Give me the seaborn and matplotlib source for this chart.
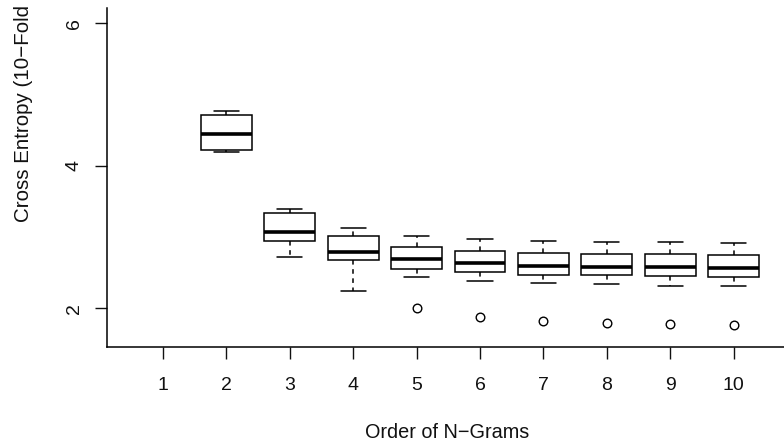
import numpy as np
import pandas as pd
import matplotlib
matplotlib.use("Agg")
import matplotlib.pyplot as plt
import seaborn as sns

# ---- data (five-number summaries per n-gram order) ----
orders = ["1", "2", "3", "4", "5", "6", "7", "8", "9", "10"]
lower_whisker = [None, 4.196, 2.724, 2.236, 2.439, 2.383, 2.355, 2.337, 2.317, 2.317]
q1            = [None, 4.216, 2.944, 2.677, 2.555, 2.506, 2.471, 2.463, 2.449, 2.443]
median        = [None, 4.440, 3.066, 2.785, 2.687, 2.631, 2.597, 2.586, 2.579, 2.569]
q3            = [None, 4.707, 3.341, 3.018, 2.864, 2.801, 2.771, 2.759, 2.762, 2.748]
upper_whisker = [None, 4.767, 3.389, 3.126, 3.018, 2.968, 2.944, 2.927, 2.930, 2.916]
outlier       = [None, None, None, None, 2.004, 1.882, 1.822, 1.790, 1.776, 1.762]
y_ticks = [2, 4, 6]

# Build a long table whose box statistics reproduce the summaries above
rows = []
for i, o in enumerate(orders):
    if median[i] is None:
        continue
    first = outlier[i] if outlier[i] is not None else lower_whisker[i]
    vals = [first, lower_whisker[i], q1[i], median[i], median[i], median[i],
            q3[i], upper_whisker[i], upper_whisker[i]]
    rows += [(o, v) for v in vals]
df = pd.DataFrame(rows, columns=["order", "ce"])

sns.set_style("ticks")
plt.rcParams["font.family"] = ["Liberation Sans", "DejaVu Sans"]

W, H = 784, 441
fig = plt.figure(figsize=(W / 100, H / 100), dpi=100)
ax_left, ax_bottom_px, ax_top_px = 107, 347, 8
ax = fig.add_axes([ax_left / W, (H - ax_bottom_px) / H,
                   (W - ax_left) / W, (ax_bottom_px - ax_top_px) / H])

sns.boxplot(data=df, x="order", y="ce", order=orders, ax=ax,
            color="white", linecolor="black", linewidth=1.1, width=0.8,
            whiskerprops=dict(linestyle=(0, (3, 3)), linewidth=1.1),
            capprops=dict(linestyle="-", linewidth=1.1),
            medianprops=dict(linewidth=2.6, color="black"),
            flierprops=dict(marker="o", markerfacecolor="none",
                            markeredgecolor="black", markersize=6.2,
                            markeredgewidth=1.0))

# scales matched to the reference pixel layout
px_per_cat = 63.4
x0_px = 163
ax.set_xlim((ax_left - x0_px) / px_per_cat, (W - x0_px) / px_per_cat)
px_per_unit = 71.3
y2_px = 308.3
ax.set_ylim(2 - (ax_bottom_px - y2_px) / px_per_unit,
            2 + (y2_px - ax_top_px) / px_per_unit)

ax.set_yticks(y_ticks)
ax.set_yticklabels([str(t) for t in y_ticks], rotation=90, va="center")
ax.tick_params(axis="both", length=8.6, width=1.0, direction="out",
               labelsize=14, colors="#111111")
ax.tick_params(axis="y", pad=9)
ax.tick_params(axis="x", pad=13)

for s in ["top", "right"]:
    ax.spines[s].set_visible(False)
for s in ["left", "bottom"]:
    ax.spines[s].set_linewidth(1.1)
    ax.spines[s].set_color("black")

ax.set_xlabel("")
ax.set_ylabel("")
fig.text(447 / W, (H - 432) / H, "Order of N\u2212Grams", fontsize=14.3,
         ha="center", va="center", color="#111111")
fig.text(24 / W, (H - 222) / H, "Cross Entropy (10\u2212Fold", fontsize=14.8,
         rotation=90, ha="center", va="bottom", color="#111111")

fig.savefig("out.png", dpi=100)
